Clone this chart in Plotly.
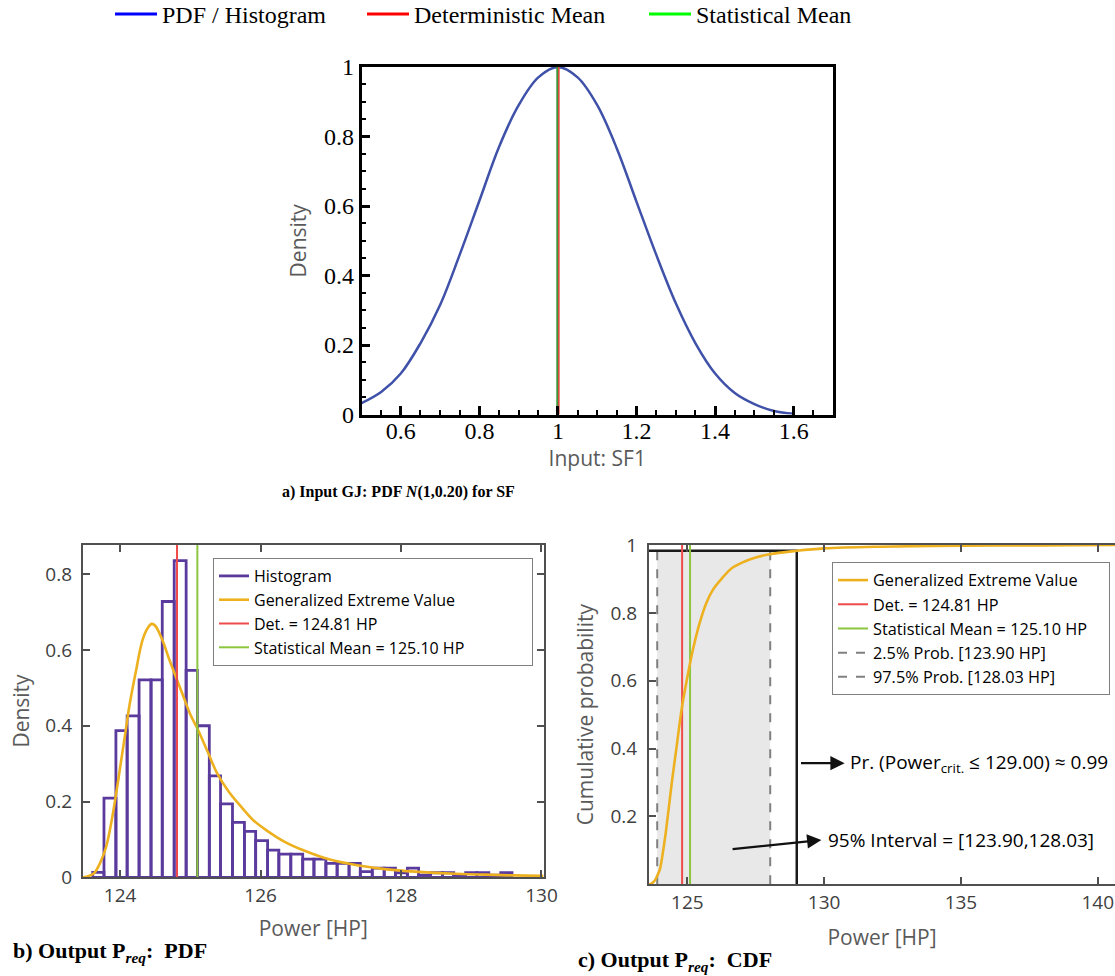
import plotly.graph_objects as go

# ---------------- Panel a: input PDF N(1, 0.20) ----------------
sf_x = [0.50, 0.55, 0.60, 0.65, 0.70, 0.75, 0.80, 0.85, 0.90, 0.95, 1.00,
        1.05, 1.10, 1.15, 1.20, 1.25, 1.30, 1.35, 1.40, 1.45, 1.50, 1.55, 1.60]
sf_pdf = [0.033, 0.065, 0.118, 0.205, 0.315, 0.46, 0.615, 0.77, 0.89, 0.97, 1.0,
          0.97, 0.89, 0.765, 0.612, 0.46, 0.32, 0.205, 0.118, 0.062, 0.030, 0.010, 0.002]
sf_det_mean = 1.002
sf_stat_mean = 0.998
a_xticks = [0.6, 0.8, 1.0, 1.2, 1.4, 1.6]
a_yticks = [0, 0.2, 0.4, 0.6, 0.8, 1]

# ---------------- Panel b: output PDF ----------------
hist_edges = [123.61, 123.77, 123.94, 124.10, 124.27, 124.44, 124.60, 124.77, 124.94,
              125.10, 125.27, 125.43, 125.60, 125.77, 125.93, 126.10, 126.26, 126.43,
              126.60, 126.76, 126.93, 127.09, 127.26, 127.42, 127.59, 127.76, 127.92,
              128.09, 128.25, 128.42, 128.59, 128.75, 128.92, 129.08, 129.25, 129.42, 129.58]
hist_density = [0.013, 0.209, 0.387, 0.426, 0.521, 0.521, 0.728, 0.836, 0.546, 0.400,
                0.268, 0.194, 0.145, 0.121, 0.097, 0.072, 0.061, 0.061, 0.048, 0.048,
                0.037, 0.037, 0.037, 0.015, 0.024, 0.024, 0.012, 0.024, 0.006, 0.012,
                0.012, 0.006, 0.012, 0.012, 0.006, 0.012]
gev_x = [123.47, 123.55, 123.63, 123.72, 123.80, 123.87, 123.93, 124.00, 124.06, 124.13,
         124.22, 124.32, 124.40, 124.45, 124.50, 124.60, 124.70, 124.78, 124.90, 125.00,
         125.11, 125.25, 125.38, 125.55, 125.72, 125.90, 126.10, 126.33, 126.60, 127.00,
         127.40, 127.80, 128.20, 128.70, 129.20, 129.60, 130.03]
gev_pdf = [0.0, 0.003, 0.011, 0.04, 0.08, 0.14, 0.205, 0.29, 0.363, 0.45,
           0.539, 0.627, 0.66, 0.669, 0.664, 0.627, 0.575, 0.536, 0.478, 0.43,
           0.389, 0.33, 0.275, 0.225, 0.187, 0.15, 0.122, 0.095, 0.072, 0.046,
           0.031, 0.021, 0.015, 0.010, 0.007, 0.005, 0.004]
det_power = 124.81
stat_power = 125.10
b_xticks = [124, 126, 128, 130]
b_yticks = [0, 0.2, 0.4, 0.6, 0.8]

# ---------------- Panel c: output CDF ----------------
cdf_x = [123.60, 123.70, 123.80, 123.90, 124.00, 124.10, 124.20, 124.30, 124.45, 124.60,
         124.80, 125.00, 125.20, 125.45, 125.70, 125.95, 126.30, 126.60, 127.00, 127.50,
         128.00, 129.00, 130.00, 132.00, 135.00, 138.00, 141.00]
cdf_y = [0.0, 0.003, 0.010, 0.025, 0.045, 0.09, 0.145, 0.21, 0.31, 0.40,
         0.52, 0.61, 0.69, 0.77, 0.83, 0.87, 0.905, 0.93, 0.948, 0.963,
         0.973, 0.983, 0.990, 0.995, 0.998, 0.999, 1.0]
q_low = 123.90
q_high = 128.03
p_crit = 129.00
p_crit_cdf = 0.983
c_xticks = [125, 130, 135, 140]
c_yticks = [0.2, 0.4, 0.6, 0.8, 1]

# ---------------- styling ----------------
SANS = "Open Sans"
SERIF = "Liberation Serif"
PURPLE = "#5A3A9C"
ORANGE = "#EDB120"
RED_B = "#F04B4B"
GREEN_B = "#8CC63F"
GRAY_AX = "#505050"
TXT_GRAY = "#5A5A5A"
NB = "\u00a0"

W, H = 1115, 976
def px(x):
    return x / W
def py(y):
    return 1 - y / H

fig = go.Figure()

# ---- top legend (figure-level), one legend per entry ----
top_entries = [("PDF / Histogram", "#0000FF", "legend"),
               ("Deterministic Mean", "#FF0000", "legend4"),
               ("Statistical Mean", "#00FF00", "legend5")]
for name, col, lg in top_entries:
    fig.add_trace(go.Scatter(x=[None], y=[None], mode="lines", name=name,
                             line=dict(color=col, width=3), xaxis="x", yaxis="y",
                             legend=lg, hoverinfo="skip"))

# ---- panel a ----
fig.add_trace(go.Scatter(x=sf_x, y=sf_pdf, mode="lines", line=dict(color="#3F51A8", width=2.5, shape="spline"),
                         xaxis="x", yaxis="y", showlegend=False))
fig.add_trace(go.Scatter(x=[sf_det_mean, sf_det_mean], y=[0, 1], mode="lines",
                         line=dict(color="#E0463C", width=1.8), xaxis="x", yaxis="y", showlegend=False))
fig.add_trace(go.Scatter(x=[sf_stat_mean, sf_stat_mean], y=[0, 1], mode="lines",
                         line=dict(color="#3A9A3A", width=1.8), xaxis="x", yaxis="y", showlegend=False))

# ---- panel b ----
b_left = hist_edges[:-1]
b_width = [hist_edges[i + 1] - hist_edges[i] for i in range(len(hist_edges) - 1)]
fig.add_trace(go.Bar(x=b_left, y=hist_density, width=b_width, offset=0,
                     marker=dict(color="rgba(255,255,255,0)", line=dict(color=PURPLE, width=2.8)),
                     xaxis="x2", yaxis="y2", showlegend=False))
fig.add_trace(go.Scatter(x=[None], y=[None], mode="lines", name="Histogram",
                         line=dict(color=PURPLE, width=2.8), xaxis="x2", yaxis="y2",
                         legend="legend2", legendrank=1))
fig.add_trace(go.Scatter(x=gev_x, y=gev_pdf, mode="lines", name="Generalized Extreme Value",
                         line=dict(color=ORANGE, width=2.6, shape="spline"), xaxis="x2", yaxis="y2",
                         legend="legend2", legendrank=2))
B_YMAX = 0.878
fig.add_trace(go.Scatter(x=[det_power, det_power], y=[0, B_YMAX], mode="lines",
                         name="Det. = 124.81 HP", line=dict(color=RED_B, width=2),
                         xaxis="x2", yaxis="y2", legend="legend2", legendrank=3))
fig.add_trace(go.Scatter(x=[stat_power, stat_power], y=[0, B_YMAX], mode="lines",
                         name="Statistical Mean = 125.10 HP" + NB * 15, line=dict(color=GREEN_B, width=2),
                         xaxis="x2", yaxis="y2", legend="legend2", legendrank=4))

# ---- panel c ----
fig.add_trace(go.Scatter(x=[q_low, q_high, q_high, q_low, q_low], y=[0, 0, p_crit_cdf, p_crit_cdf, 0],
                         mode="lines", fill="toself", fillcolor="#E8E8E8", line=dict(width=0),
                         xaxis="x3", yaxis="y3", showlegend=False, hoverinfo="skip"))
fig.add_trace(go.Scatter(x=[q_low, q_low], y=[0, p_crit_cdf], mode="lines",
                         name="2.5% Prob. [123.90 HP]", line=dict(color="#808080", width=2, dash="dash"),
                         xaxis="x3", yaxis="y3", legend="legend3", legendrank=4))
fig.add_trace(go.Scatter(x=[q_high, q_high], y=[0, p_crit_cdf], mode="lines",
                         name="97.5% Prob. [128.03 HP]", line=dict(color="#808080", width=2, dash="dash"),
                         xaxis="x3", yaxis="y3", legend="legend3", legendrank=5))
fig.add_trace(go.Scatter(x=[cdf_x[0], p_crit, p_crit], y=[p_crit_cdf, p_crit_cdf, 0], mode="lines",
                         line=dict(color="#1A1A1A", width=2.5), xaxis="x3", yaxis="y3",
                         showlegend=False, hoverinfo="skip"))
fig.add_trace(go.Scatter(x=[det_power, det_power], y=[0, 1], mode="lines",
                         name="Det. = 124.81 HP", line=dict(color=RED_B, width=2),
                         xaxis="x3", yaxis="y3", legend="legend3", legendrank=2))
fig.add_trace(go.Scatter(x=[stat_power, stat_power], y=[0, 1], mode="lines",
                         name="Statistical Mean = 125.10 HP" + NB * 4, line=dict(color=GREEN_B, width=2),
                         xaxis="x3", yaxis="y3", legend="legend3", legendrank=3))
fig.add_trace(go.Scatter(x=cdf_x, y=cdf_y, mode="lines", name="Generalized Extreme Value",
                         line=dict(color=ORANGE, width=2.6, shape="spline"), xaxis="x3", yaxis="y3",
                         legend="legend3", legendrank=1))

# ---- axes ----
serif_tick = dict(family=SERIF, size=24, color="black")
sans_tick = dict(family=SANS, size=19, color="#404040")
title_font = dict(family=SANS, size=21, color=TXT_GRAY)

top_leg_font = dict(family=SERIF, size=24, color="black")
def top_legend(xpix):
    return dict(orientation="h", x=px(xpix), y=1.0 + 8 / H, xanchor="left", yanchor="top",
                font=top_leg_font, bgcolor="rgba(0,0,0,0)", itemwidth=42)

fig.update_layout(
    template="none",
    width=W, height=H, margin=dict(l=0, r=0, t=0, b=0, pad=0, autoexpand=False),
    paper_bgcolor="white", plot_bgcolor="white", barmode="overlay",
    xaxis=dict(domain=[px(361.5), px(833)], anchor="y", range=[0.5, 1.7], tickvals=a_xticks,
               ticktext=["0.6", "0.8", "1", "1.2", "1.4", "1.6"], automargin=False,
               ticks="inside", ticklen=9, tickwidth=2.5, tickcolor="black", ticklabelstandoff=-7,
               showline=True, linecolor="black", linewidth=2.5, mirror=True,
               showgrid=False, zeroline=False, tickfont=serif_tick,
               minor=dict(tick0=0.5, dtick=0.05, ticks="inside", ticklen=5, tickwidth=1.5, tickcolor="black",
                          showgrid=False),
               title=dict(text="Input: SF1", font=title_font, standoff=5)),
    yaxis=dict(domain=[py(414.5), py(67)], anchor="x", range=[0, 1], tickvals=a_yticks,
               ticktext=["0", "0.2", "0.4", "0.6", "0.8", "1"], automargin=False,
               ticks="inside", ticklen=9, tickwidth=2.5, tickcolor="black",
               showline=True, linecolor="black", linewidth=2.5, mirror=True,
               showgrid=False, zeroline=False, tickfont=serif_tick,
               minor=dict(tick0=0, dtick=0.05, ticks="inside", ticklen=5, tickwidth=1.5, tickcolor="black",
                          showgrid=False),
               title=dict(text="Density", font=title_font, standoff=12)),
    xaxis2=dict(domain=[px(82.9), px(543.6)], anchor="y2", range=[123.47, 130.03], tickvals=b_xticks,
                ticks="inside", ticklen=7, tickwidth=2, tickcolor=GRAY_AX, automargin=False,
                showline=True, linecolor=GRAY_AX, linewidth=2.2, mirror="ticks",
                showgrid=False, zeroline=False, tickfont=sans_tick,
                title=dict(text="Power [HP]", font=title_font, standoff=14)),
    yaxis2=dict(domain=[py(877.3), py(544.7)], anchor="x2", range=[0, B_YMAX], tickvals=b_yticks,
                ticktext=["0", "0.2", "0.4", "0.6", "0.8"], automargin=False,
                ticks="inside", ticklen=7, tickwidth=2, tickcolor=GRAY_AX, ticklabelstandoff=5,
                showline=True, linecolor=GRAY_AX, linewidth=2.2, mirror="ticks",
                showgrid=False, zeroline=False, tickfont=sans_tick,
                title=dict(text="Density", font=title_font, standoff=10)),
    xaxis3=dict(domain=[px(649), 1.0], anchor="y3", range=[123.6, 140.63], tickvals=c_xticks,
                ticks="inside", ticklen=7, tickwidth=2, tickcolor=GRAY_AX, automargin=False,
                showline=True, linecolor=GRAY_AX, linewidth=2.2, mirror="ticks",
                showgrid=False, zeroline=False, tickfont=sans_tick,
                title=dict(text="Power [HP]", font=title_font, standoff=16)),
    yaxis3=dict(domain=[py(884.3), py(545)], anchor="x3", range=[0, 1], tickvals=c_yticks,
                ticktext=["0.2", "0.4", "0.6", "0.8", "1"], automargin=False,
                ticks="inside", ticklen=7, tickwidth=2, tickcolor=GRAY_AX, ticklabelstandoff=6,
                showline=True, linecolor=GRAY_AX, linewidth=2.2, mirror=False,
                showgrid=False, zeroline=False, tickfont=sans_tick,
                title=dict(text="Cumulative probability", font=title_font, standoff=11)),
    legend=top_legend(110),
    legend4=top_legend(362),
    legend5=top_legend(644),
    legend2=dict(x=px(213), y=py(558), xanchor="left", yanchor="top",
                 font=dict(family=SANS, size=16, color="black"), bgcolor="white",
                 bordercolor="#7F7F7F", borderwidth=1, traceorder="normal"),
    legend3=dict(x=px(832), y=py(562), xanchor="left", yanchor="top",
                 font=dict(family=SANS, size=16.3, color="black"), bgcolor="white",
                 bordercolor="#7F7F7F", borderwidth=1, traceorder="normal"),
    showlegend=True,
)

# ---- annotations: arrows and texts in panel c ----
fig.add_annotation(x=130.75, y=0.357, ax=129.1, ay=0.357, xref="x3", yref="y3", axref="x3", ayref="y3",
                   text="", showarrow=True, arrowhead=2, arrowsize=1.3, arrowwidth=2.2, arrowcolor="#111")
fig.add_annotation(x=130.86, y=0.357, xref="x3", yref="y3", xanchor="left", yanchor="middle", showarrow=False,
                   text="Pr. (Power<sub>crit.</sub> ≤ 129.00) ≈ 0.99",
                   font=dict(family=SANS, size=19, color="black"))
fig.add_annotation(x=129.9, y=0.1306, ax=126.6, ay=0.103, xref="x3", yref="y3", axref="x3", ayref="y3",
                   text="", showarrow=True, arrowhead=2, arrowsize=1.3, arrowwidth=2.2, arrowcolor="#111")
fig.add_annotation(x=130.08, y=0.1306, xref="x3", yref="y3", xanchor="left", yanchor="middle", showarrow=False,
                   text="95% Interval = [123.90,128.03]",
                   font=dict(family=SANS, size=19, color="black"))

# ---- captions ----
cap_font_a = dict(family=SERIF, size=16, color="black")
cap_font = dict(family=SERIF, size=22, color="black")
fig.add_annotation(x=px(398), y=py(492), xref="paper", yref="paper", xanchor="center", yanchor="middle",
                   showarrow=False, text="<b>a) Input GJ: PDF <i>N</i>(1,0.20) for SF</b>", font=cap_font_a)
fig.add_annotation(x=px(11), y=py(952), xref="paper", yref="paper", xanchor="left", yanchor="middle",
                   showarrow=False, text="<b>b) Output P<sub><i>req</i></sub>:  PDF</b>", font=cap_font)
fig.add_annotation(x=px(576), y=py(961), xref="paper", yref="paper", xanchor="left", yanchor="middle",
                   showarrow=False, text="<b>c) Output P<sub><i>req</i></sub>:  CDF</b>", font=cap_font)

fig.write_html("out.html")
